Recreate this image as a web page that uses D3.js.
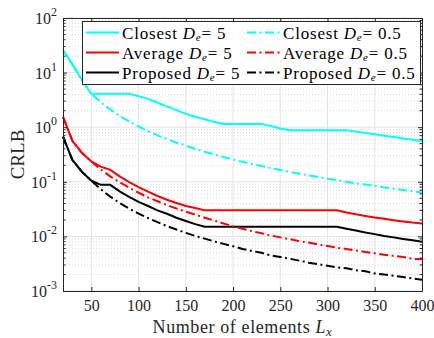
<!DOCTYPE html>
<html>
<head>
<meta charset="utf-8">
<script src="https://cdn.jsdelivr.net/npm/d3@7/dist/d3.min.js"></script>
<style>
  html, body { margin: 0; padding: 0; background: #fff; }
  svg { display: block; font-family: "Liberation Serif", "Times New Roman", serif; }
</style>
</head>
<body>
<div id="chart"></div>
<script>
// number of elements
const Lx = [20, 30, 40, 50, 60, 70, 80, 90, 100, 110, 120, 130, 140, 150, 160, 170, 180, 190, 200,
  210, 220, 230, 240, 250, 260, 270, 280, 290, 300, 310, 320, 330, 340, 350, 360, 370, 380, 390, 400];

const closest5 = [26, 14, 7.3, 4.1, 4.1, 4.1, 4.1, 4.1, 3.7, 3.3, 2.8, 2.4, 2.05, 1.75, 1.55, 1.4, 1.25, 1.15, 1.15,
  1.15, 1.15, 1.15, 1.05, 0.95, 0.88, 0.88, 0.88, 0.88, 0.88, 0.88, 0.88, 0.83, 0.78, 0.74, 0.70, 0.66, 0.62, 0.59, 0.56];
const closest05 = [26, 14, 7.3, 4.1, 2.85, 2.1, 1.6, 1.27, 1.03, 0.85, 0.71, 0.61, 0.52, 0.46, 0.40, 0.355, 0.316, 0.284, 0.256,
  0.232, 0.212, 0.194, 0.178, 0.164, 0.152, 0.141, 0.131, 0.122, 0.114, 0.107, 0.100, 0.094, 0.089, 0.084, 0.079, 0.075, 0.071, 0.067, 0.064];
const average5 = [1.55, 0.56, 0.34, 0.235, 0.19, 0.165, 0.126, 0.099, 0.080, 0.066, 0.055, 0.047, 0.041, 0.036, 0.033, 0.030, 0.030, 0.030, 0.030,
  0.030, 0.030, 0.030, 0.030, 0.030, 0.030, 0.030, 0.030, 0.030, 0.030, 0.030, 0.0275, 0.0255, 0.0237, 0.0222, 0.0210, 0.0198, 0.0188, 0.0179, 0.0172];
const average05 = [1.55, 0.56, 0.34, 0.235, 0.168, 0.126, 0.098, 0.078, 0.063, 0.052, 0.044, 0.0375, 0.0325, 0.0285, 0.025, 0.022, 0.0195, 0.0172, 0.0153,
  0.0138, 0.0125, 0.0114, 0.0104, 0.0096, 0.0089, 0.0082, 0.0077, 0.0071, 0.0067, 0.0062, 0.0059, 0.0055, 0.0052, 0.0049, 0.0046, 0.0044, 0.0042, 0.0039, 0.0038];
const proposed5 = [0.67, 0.25, 0.153, 0.105, 0.088, 0.088, 0.067, 0.053, 0.043, 0.036, 0.030, 0.026, 0.022, 0.0192, 0.0168, 0.015, 0.015, 0.015, 0.015,
  0.015, 0.015, 0.015, 0.015, 0.015, 0.015, 0.015, 0.015, 0.015, 0.015, 0.015, 0.0138, 0.0128, 0.0118, 0.0110, 0.0102, 0.0096, 0.0090, 0.0085, 0.0080];
const proposed05 = [0.67, 0.25, 0.153, 0.105, 0.073, 0.0535, 0.041, 0.0323, 0.0262, 0.0217, 0.0182, 0.0155, 0.0134, 0.0116, 0.0102, 0.0091, 0.0081, 0.0073, 0.0066,
  0.0059, 0.0054, 0.0050, 0.0045, 0.0042, 0.0039, 0.0036, 0.0033, 0.0031, 0.0029, 0.0027, 0.0026, 0.0024, 0.0023, 0.0021, 0.0020, 0.0019, 0.0018, 0.0017, 0.0016];

const xTicks = [50, 100, 150, 200, 250, 300, 350, 400];
const yExponents = [-3, -2, -1, 0, 1, 2];

const dashDot = "9,3.5,2,3.5";
const series = [
  { name: "Closest", de: "5", values: closest5, color: "#00FFFF", dash: null },
  { name: "Average", de: "5", values: average5, color: "#FF0000", dash: null },
  { name: "Proposed", de: "5", values: proposed5, color: "#000000", dash: null },
  { name: "Closest", de: "0.5", values: closest05, color: "#00FFFF", dash: dashDot },
  { name: "Average", de: "0.5", values: average05, color: "#FF0000", dash: dashDot },
  { name: "Proposed", de: "0.5", values: proposed05, color: "#000000", dash: dashDot }
];

const W = 434, H = 338;
const margin = { top: 18, right: 12, bottom: 47, left: 63 };
const width = W - margin.left - margin.right;
const height = H - margin.top - margin.bottom;
const axisColor = "#262626";

const svg = d3.select("#chart").append("svg")
  .attr("width", W)
  .attr("height", H);

const g = svg.append("g")
  .attr("transform", `translate(${margin.left},${margin.top})`);

const x = d3.scaleLinear().domain([20, 400]).range([0, width]);
const y = d3.scaleLog().domain([1e-3, 1e2]).range([height, 0]);

const majorY = yExponents.map(e => Math.pow(10, e));
const minorY = [];
yExponents.slice(0, -1).forEach(e => {
  for (let k = 2; k <= 9; k++) minorY.push(k * Math.pow(10, e));
});

// minor grid (dotted)
g.append("g")
  .selectAll("line")
  .data(minorY)
  .join("line")
  .attr("x1", 0).attr("x2", width)
  .attr("y1", d => y(d)).attr("y2", d => y(d))
  .attr("stroke", "#d9d9d9")
  .attr("stroke-width", 1)
  .attr("stroke-dasharray", "1,2");

// major grid
g.append("g")
  .selectAll("line")
  .data(majorY)
  .join("line")
  .attr("x1", 0).attr("x2", width)
  .attr("y1", d => y(d)).attr("y2", d => y(d))
  .attr("stroke", "#e3e3e3");

g.append("g")
  .selectAll("line")
  .data(xTicks)
  .join("line")
  .attr("x1", d => x(d)).attr("x2", d => x(d))
  .attr("y1", 0).attr("y2", height)
  .attr("stroke", "#e3e3e3");

// lines
const line = d3.line()
  .x((d, i) => x(Lx[i]))
  .y(d => y(d));

g.append("g")
  .selectAll("path")
  .data(series)
  .join("path")
  .attr("fill", "none")
  .attr("stroke", d => d.color)
  .attr("stroke-width", 2)
  .attr("stroke-dasharray", d => d.dash)
  .attr("d", d => line(d.values));

// axes (ticks inward, box)
const styleAxis = sel => {
  sel.select(".domain").attr("stroke", axisColor);
  sel.selectAll(".tick line").attr("stroke", axisColor);
  sel.selectAll("text").attr("fill", axisColor);
};

g.append("g")
  .attr("transform", `translate(0,${height})`)
  .call(d3.axisBottom(x).tickValues(xTicks).tickSizeInner(-4).tickSizeOuter(0).tickPadding(9))
  .call(styleAxis)
  .call(s => s.selectAll("text").attr("font-size", 16).attr("font-family", "Liberation Serif"));

g.append("g")
  .call(d3.axisTop(x).tickValues(xTicks).tickSizeInner(-4).tickSizeOuter(0).tickFormat(""))
  .call(styleAxis);

g.append("g")
  .call(d3.axisLeft(y).tickValues(majorY).tickSizeInner(-4).tickSizeOuter(0).tickFormat(""))
  .call(styleAxis);

g.append("g")
  .attr("transform", `translate(${width},0)`)
  .call(d3.axisRight(y).tickValues(majorY).tickSizeInner(-4).tickSizeOuter(0).tickFormat(""))
  .call(styleAxis);

// minor ticks left/right
[0, width].forEach(xp => {
  const dir = xp === 0 ? 1 : -1;
  g.append("g")
    .selectAll("line")
    .data(minorY)
    .join("line")
    .attr("x1", xp).attr("x2", xp + dir * 2.5)
    .attr("y1", d => y(d)).attr("y2", d => y(d))
    .attr("stroke", axisColor);
});

// y tick labels 10^n
const yLab = g.append("g").selectAll("text")
  .data(yExponents)
  .join("text")
  .attr("x", -6)
  .attr("y", d => y(Math.pow(10, d)) + 6)
  .attr("text-anchor", "end")
  .attr("fill", axisColor)
  .attr("font-size", 16);
yLab.append("tspan").text("10");
yLab.append("tspan")
  .attr("dy", -8)
  .attr("font-size", 12)
  .text(d => d);

// axis titles
svg.append("text")
  .attr("x", margin.left + width / 2)
  .attr("y", 333)
  .attr("text-anchor", "middle")
  .attr("fill", axisColor)
  .attr("font-size", 18)
  .attr("letter-spacing", 0.6)
  .call(t => {
    t.append("tspan").text("Number of elements ");
    t.append("tspan").attr("font-style", "italic").text("L");
    t.append("tspan").attr("font-style", "italic").attr("font-size", 13).attr("dy", 3).text("x");
  });

svg.append("text")
  .attr("transform", `translate(24,${margin.top + height / 2}) rotate(-90)`)
  .attr("text-anchor", "middle")
  .attr("fill", axisColor)
  .attr("font-size", 19)
  .text("CRLB");

// legend
const legend = svg.append("g");
legend.append("rect")
  .attr("x", 82.5).attr("y", 21.5)
  .attr("width", 338).attr("height", 63)
  .attr("fill", "#fff")
  .attr("stroke", axisColor)
  .attr("stroke-width", 1);

const colX = [86, 247];
const rowY = [32.5, 52.5, 72.5];
series.forEach((s, i) => {
  const col = Math.floor(i / 3), row = i % 3;
  const lx = colX[col], ly = rowY[row];
  legend.append("line")
    .attr("x1", lx).attr("x2", lx + 33)
    .attr("y1", ly).attr("y2", ly)
    .attr("stroke", s.color)
    .attr("stroke-width", 2)
    .attr("stroke-dasharray", s.dash);
  const t = legend.append("text")
    .attr("x", lx + 36)
    .attr("y", ly + 6)
    .attr("fill", "#000")
    .attr("font-size", 17)
    .attr("letter-spacing", 0.8);
  t.append("tspan").text(s.name + " ");
  t.append("tspan").attr("font-style", "italic").text("D");
  t.append("tspan").attr("font-style", "italic").attr("font-size", 11).attr("dy", 2).text("e");
  t.append("tspan").attr("dy", -2).text("= " + s.de);
});
</script>
</body>
</html>
